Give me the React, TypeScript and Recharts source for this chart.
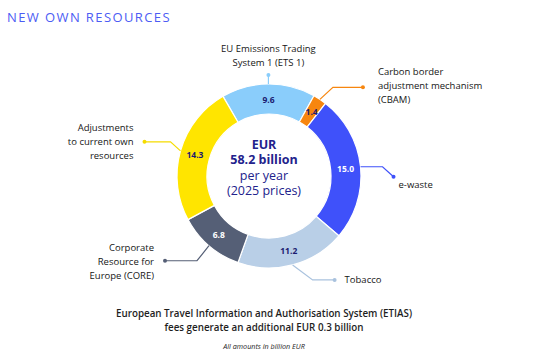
import { PieChart, Pie, Cell } from 'recharts';

const categories = [
  'EU Emissions Trading System 1 (ETS 1)',
  'Carbon border adjustment mechanism (CBAM)',
  'e-waste',
  'Tobacco',
  'Corporate Resource for Europe (CORE)',
  'Adjustments to current own resources',
];
const values = [9.6, 1.4, 15.0, 11.2, 6.8, 14.3];
const valueLabels = ['9.6', '1.4', '15.0', '11.2', '6.8', '14.3'];
const calloutLines = [
  ['EU Emissions Trading', 'System 1 (ETS 1)'],
  ['Carbon border', 'adjustment mechanism', '(CBAM)'],
  ['e-waste'],
  ['Tobacco'],
  ['Corporate', 'Resource for', 'Europe (CORE)'],
  ['Adjustments', 'to current own', 'resources'],
];
const centerLines = ['EUR', '58.2 billion', 'per year', '(2025 prices)'];

const COLORS = ['#8ACDFB', '#F7860F', '#3F51FA', '#B9CFE7', '#555F76', '#FFE500'];
const LINE_COLORS = ['#8ACDFB', '#F7860F', '#3F51FA', '#A9C2DE', '#555F76', '#F5DC00'];
const VALUE_COLORS = ['#1B1B70', '#1B1B70', '#FFFFFF', '#1B1B70', '#FFFFFF', '#1B1B70'];

// leader line steps (relative) and text placement relative to the end dot
const LEADERS: { steps: [number, number][]; anchor: 'start' | 'middle' | 'end'; tx: number; ty: number }[] = [
  { steps: [[0, -9]], anchor: 'middle', tx: 0, ty: -27 },
  { steps: [[13, -12], [30, 0]], anchor: 'start', tx: 15, ty: -16 },
  { steps: [[22, 0], [11, 10]], anchor: 'start', tx: 5, ty: 8 },
  { steps: [[20, 15], [22, 0]], anchor: 'start', tx: 10, ty: 0 },
  { steps: [[-12, 15], [-32, 0]], anchor: 'end', tx: -11, ty: -13 },
  { steps: [[-10, -9], [-26, 0]], anchor: 'end', tx: -11, ty: -14 },
];

const data = categories.map((name, i) => ({ name, value: values[i] }));
const RAD = Math.PI / 180;
const FONT = '"Open Sans", "Noto Sans", sans-serif';
const CX = 264;
const CY = 171;

function renderLabel(props: any) {
  const { cx, cy, midAngle, innerRadius, outerRadius, index } = props;
  const mr = (innerRadius + outerRadius) / 2;
  const vx = cx + mr * Math.cos(-midAngle * RAD);
  const vy = cy + mr * Math.sin(-midAngle * RAD);
  const sx = cx + outerRadius * Math.cos(-midAngle * RAD);
  const sy = cy + outerRadius * Math.sin(-midAngle * RAD);
  const leader = LEADERS[index];
  const pts: [number, number][] = [[sx, sy]];
  leader.steps.forEach(([dx, dy]) => {
    const [px, py] = pts[pts.length - 1];
    pts.push([px + dx, py + dy]);
  });
  const [ex, ey] = pts[pts.length - 1];
  const lines = calloutLines[index];
  return (
    <g key={`lbl-${index}`}>
      <text
        x={vx}
        y={vy}
        textAnchor="middle"
        dominantBaseline="central"
        fill={VALUE_COLORS[index]}
        fontSize={8.5}
        fontWeight={700}
        fontFamily={FONT}
      >
        {valueLabels[index]}
      </text>
      <polyline
        points={pts.map((p) => p.join(',')).join(' ')}
        fill="none"
        stroke={LINE_COLORS[index]}
        strokeWidth={1.2}
      />
      <circle cx={ex} cy={ey} r={2} fill={LINE_COLORS[index]} />
      <text textAnchor={leader.anchor} fill="#161616" fontSize={9.5} fontWeight={500} fontFamily={FONT}>
        {lines.map((ln, k) => (
          <tspan key={k} x={ex + leader.tx} y={ey + leader.ty + k * 14} dominantBaseline="central">
            {ln}
          </tspan>
        ))}
      </text>
    </g>
  );
}

export default function App() {
  return (
    <div style={{ position: 'absolute', left: 0, top: 0, width: 554, height: 356, background: '#fff', fontFamily: FONT }}>
      <div
        style={{
          position: 'absolute',
          left: 7,
          top: 8,
          fontSize: 13,
          fontWeight: 500,
          letterSpacing: 1.4,
          color: '#4C5CF4',
          lineHeight: '18px',
          whiteSpace: 'nowrap',
        }}
      >
        NEW OWN RESOURCES
      </div>
      <PieChart width={554} height={356} style={{ position: 'absolute', left: 0, top: 0 }}>
        <Pie
          data={data}
          dataKey="value"
          nameKey="name"
          cx={CX}
          cy={CY}
          innerRadius={62}
          outerRadius={92}
          startAngle={120}
          endAngle={-240}
          stroke="#FFFFFF"
          strokeWidth={1.2}
          label={renderLabel}
          labelLine={false}
          isAnimationActive={false}
        >
          {data.map((_, i) => (
            <Cell key={i} fill={COLORS[i]} />
          ))}
        </Pie>
      </PieChart>
      {centerLines.map((ln, i) => (
        <div
          key={i}
          style={{
            position: 'absolute',
            left: CX - 60,
            top: CY - 34 + i * 15.3,
            width: 120,
            height: 15,
            textAlign: 'center',
            color: '#22228C',
            fontSize: 12.5,
            fontWeight: i < 2 ? 700 : 400,
            lineHeight: '15px',
            whiteSpace: 'nowrap',
          }}
        >
          {ln}
        </div>
      ))}
      <div
        style={{
          position: 'absolute',
          left: 0,
          top: 307,
          width: 528,
          textAlign: 'center',
          fontSize: 9.8,
          fontWeight: 600,
          color: '#1E1E1E',
          lineHeight: '13.5px',
        }}
      >
        European Travel Information and Authorisation System (ETIAS)
        <br />
        fees generate an additional EUR 0.3 billion
      </div>
      <div
        style={{
          position: 'absolute',
          left: 0,
          top: 341,
          width: 528,
          textAlign: 'center',
          fontSize: 7.2,
          fontStyle: 'italic',
          color: '#1E1E1E',
          lineHeight: '10px',
        }}
      >
        All amounts in billion EUR
      </div>
    </div>
  );
}
